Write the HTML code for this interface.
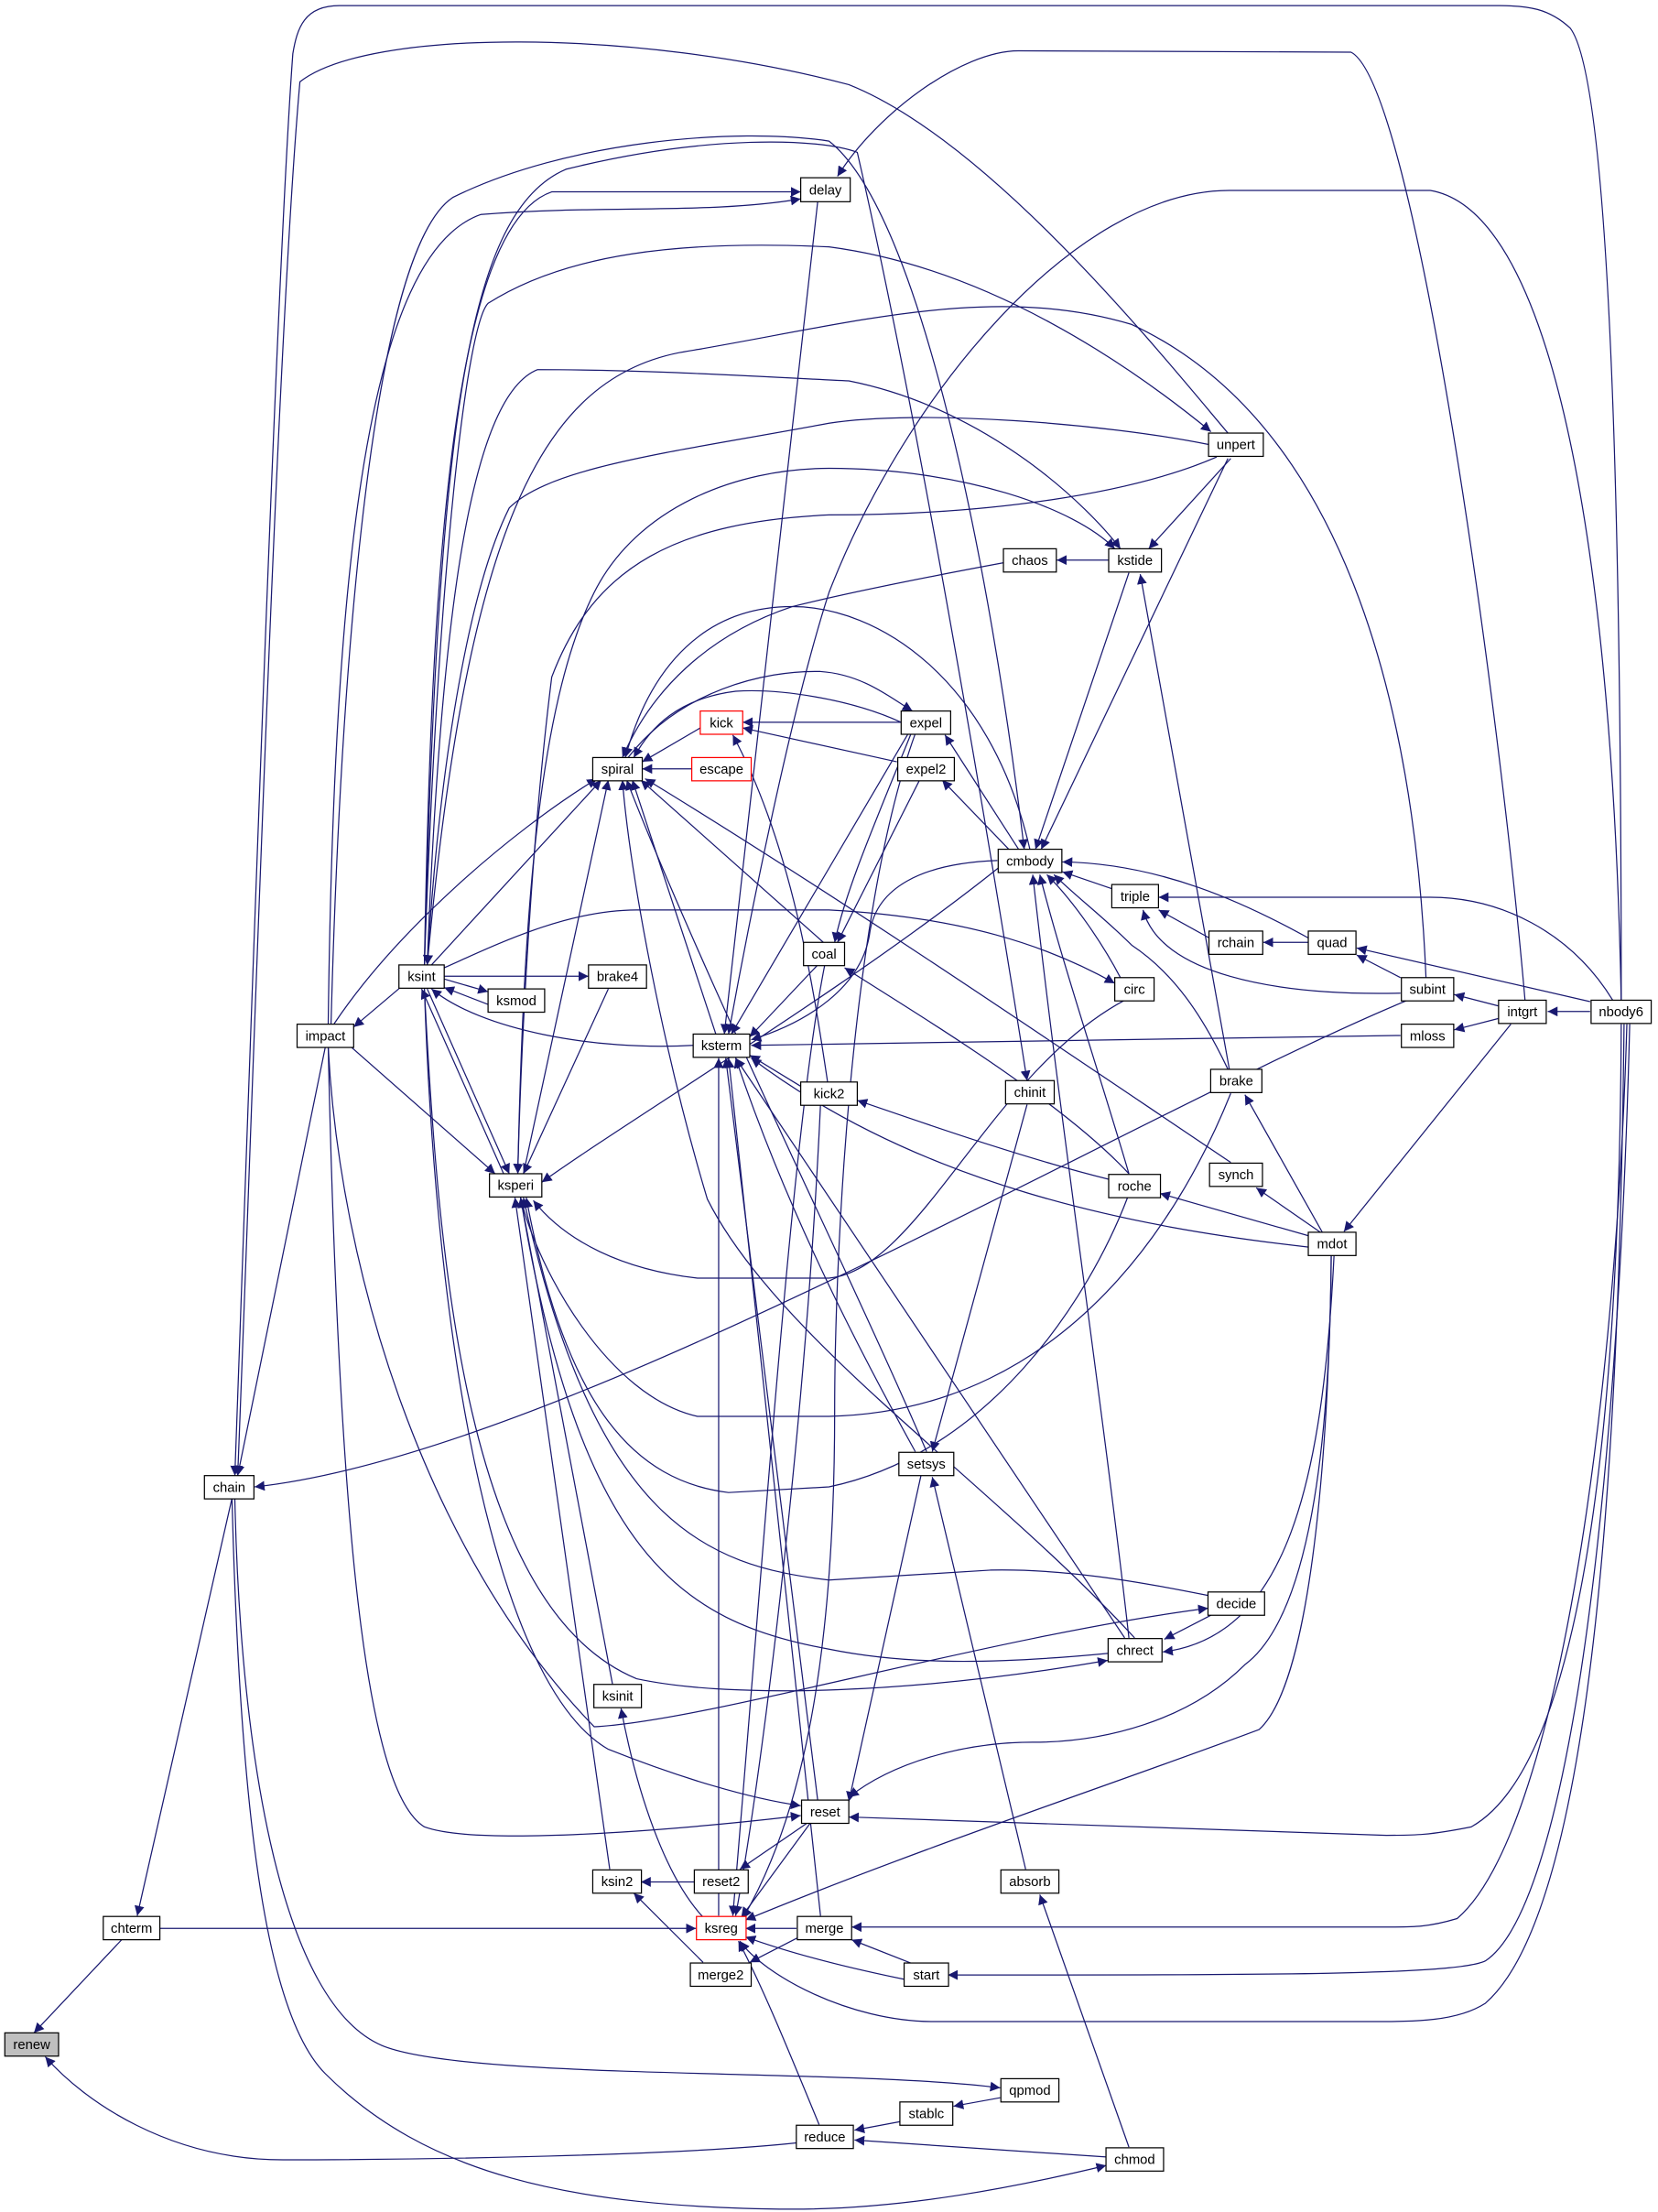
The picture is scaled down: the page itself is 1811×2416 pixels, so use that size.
<!DOCTYPE html>
<html><head><meta charset="utf-8"><style>
html,body{margin:0;padding:0;background:#fff;}
svg{display:block;}
text{font-family:"Liberation Sans",sans-serif;font-size:9.6px;text-anchor:middle;fill:#000;}
</style></head><body>
<svg width="1811" height="2416" viewBox="0 0 1172 1568" preserveAspectRatio="none" xmlns="http://www.w3.org/2000/svg">
<defs><marker id="a" viewBox="0 0 10 10" refX="10" refY="5" markerWidth="7" markerHeight="7" orient="auto" markerUnits="userSpaceOnUse"><path d="M0,0 L10,5 L0,10z" fill="#191970"/></marker></defs>
<g fill="none" stroke="#191970" stroke-width="0.8" marker-end="url(#a)">
<path d="M86,1375 L24,1441"/>
<path d="M563,1519 C480,1528 300,1531 200,1531 C120,1531 60,1490 32,1458"/>
<path d="M164,1062 L97,1358"/>
<path d="M113,1367 L492,1367"/>
<path d="M1146,709 C1146,400 1140,60 1110,20 C1095,6 1080,4 1060,4 L240,4 C215,4 210,20 207,38 C195,200 175,800 166,1046"/>
<path d="M868,307 C820,250 700,100 600,60 C450,20 260,20 212,58 C195,250 178,800 168,1046"/>
<path d="M995,709 C800,790 400,1030 180,1054"/>
<path d="M230,742 L168,1046"/>
<path d="M166,1062 C170,1250 200,1420 270,1450 C330,1475 600,1466 707,1480"/>
<path d="M164,1062 C170,1300 190,1430 230,1470 C300,1540 400,1565 560,1566 C640,1566 720,1550 782,1535"/>
<path d="M283,700 L250,728"/>
<path d="M236,726 C280,660 360,590 422,552"/>
<path d="M248,742 L350,832"/>
<path d="M232,742 C240,1100 260,1270 300,1295 C340,1310 500,1295 566,1287"/>
<path d="M1078,709 C1060,500 1000,60 955,37 L720,36 C680,36 620,80 592,125"/>
<path d="M234,726 C240,500 260,180 320,140 C400,100 520,90 586,100 C650,150 700,400 724,602"/>
<path d="M300,684 C310,300 330,150 400,120 C500,95 580,98 606,108 C650,300 700,600 726,766"/>
<path d="M300,684 C305,400 320,160 390,136 L566,136"/>
<path d="M232,726 C236,400 260,180 340,152 C430,145 500,152 566,141"/>
<path d="M300,684 C310,400 330,230 345,215 C400,180 480,170 586,175 C700,190 800,260 856,306"/>
<path d="M302,684 C312,420 335,280 380,262 C450,262 520,266 600,270 C700,290 770,360 792,389"/>
<path d="M854,315 C780,300 650,290 586,300 C480,320 390,330 360,360 C330,420 310,550 302,684"/>
<path d="M860,324 C800,350 700,365 586,365 C480,370 420,400 390,480 C375,600 368,750 366,832"/>
<path d="M366,832 C370,650 380,500 420,420 C450,360 520,332 586,332 C680,332 760,360 788,389"/>
<path d="M709,399 C650,410 600,420 560,430 C500,450 460,490 440,537"/>
<path d="M706,615 C600,700 450,790 383,838"/>
<path d="M795,709 C700,760 650,900 586,906 L493,906 C440,900 400,880 377,851"/>
<path d="M870,775 C840,850 760,1000 586,1004 L493,1004 C430,990 380,900 368,849"/>
<path d="M797,849 C770,920 700,1030 586,1054 L515,1058 C450,1050 400,1000 372,849"/>
<path d="M854,1131 C800,1120 750,1112 700,1113 L586,1120 C500,1110 420,1080 370,849"/>
<path d="M783,1172 C700,1180 640,1180 586,1169 C480,1150 410,1100 368,849"/>
<path d="M300,701 C310,900 330,1140 450,1190 C520,1205 650,1200 783,1177"/>
<path d="M232,742 C240,900 300,1100 420,1224 C500,1220 700,1160 854,1140"/>
<path d="M300,701 C310,1000 360,1200 430,1240 C480,1260 530,1275 566,1280"/>
<path d="M433,1194 L368,849"/>
<path d="M431,1325 L364,849"/>
<path d="M491,1334 L453,1334"/>
<path d="M497,1391 L448,1342"/>
<path d="M497,1359 C470,1330 450,1270 439,1211"/>
<path d="M571,1292 L523,1325"/>
<path d="M573,1292 L524,1359"/>
<path d="M563,1367 L527,1367"/>
<path d="M639,1403 C600,1395 560,1385 527,1373"/>
<path d="M565,1373 L530,1391"/>
<path d="M579,1506 C560,1460 540,1410 522,1376"/>
<path d="M1148,726 C1145,1000 1130,1350 1050,1420 C1030,1433 1000,1433 970,1433 L660,1433 C600,1433 540,1400 523,1376"/>
<path d="M941,890 C940,1000 930,1190 890,1226 C800,1260 650,1310 527,1361"/>
<path d="M1150,726 C1142,1000 1100,1300 1030,1360 C1010,1366 1000,1366 980,1366 L602,1366"/>
<path d="M1152,726 C1144,1050 1110,1350 1050,1390 C1030,1400 900,1400 670,1400"/>
<path d="M645,1392 L602,1375"/>
<path d="M1146,726 C1145,1000 1120,1250 1040,1295 C1010,1301 1000,1301 980,1301 L600,1288"/>
<path d="M941,890 C940,1050 920,1150 880,1180 C840,1220 780,1235 730,1235 C680,1235 630,1250 600,1274"/>
<path d="M943,890 C935,1050 910,1160 822,1171"/>
<path d="M856,1145 L823,1162"/>
<path d="M726,783 L659,1029"/>
<path d="M725,1325 L659,1047"/>
<path d="M798,1522 L735,1343"/>
<path d="M651,1046 L600,1277"/>
<path d="M647,1029 C620,980 560,870 520,750"/>
<path d="M636,1504 L604,1510"/>
<path d="M707,1487 L674,1493"/>
<path d="M782,1529 L604,1517"/>
<path d="M925,876 L820,846"/>
<path d="M934,874 L888,842"/>
<path d="M935,874 L880,776"/>
<path d="M1068,726 L950,873"/>
<path d="M784,836 C720,820 650,795 606,780"/>
<path d="M798,832 C750,780 650,720 597,686"/>
<path d="M925,884 C800,870 650,840 531,750"/>
<path d="M990,734 C800,736 650,740 531,741"/>
<path d="M1059,722 L1028,730"/>
<path d="M1059,713 L1028,705"/>
<path d="M1124,717 L1094,717"/>
<path d="M1124,710 L959,672"/>
<path d="M1140,709 C1110,660 1060,636 1011,636 L819,636"/>
<path d="M990,693 L959,677"/>
<path d="M990,704 C900,706 820,690 808,645"/>
<path d="M925,668 L893,668"/>
<path d="M855,665 L819,645"/>
<path d="M786,630 L751,618"/>
<path d="M925,665 C880,640 820,612 751,611"/>
<path d="M792,693 C780,670 760,640 740,620"/>
<path d="M868,758 C850,720 830,690 800,670 C780,650 760,635 745,620"/>
<path d="M798,832 C780,770 750,680 735,620"/>
<path d="M798,1161 C780,1000 750,800 730,620"/>
<path d="M798,406 L732,602"/>
<path d="M868,325 L736,602"/>
<path d="M870,325 L812,389"/>
<path d="M869,758 L806,407"/>
<path d="M784,397 L747,397"/>
<path d="M720,602 L668,521"/>
<path d="M715,604 L666,553"/>
<path d="M1008,693 C1000,500 950,300 800,230 C700,200 600,230 480,250 C380,270 330,380 302,684"/>
<path d="M1146,709 C1140,400 1100,150 1011,135 L869,135 C760,135 640,280 586,420 C560,500 530,650 515,733"/>
<path d="M578,143 L512,733"/>
<path d="M444,537 C480,490 540,475 580,476 C610,478 630,495 645,504"/>
<path d="M637,512 C600,495 550,488 520,490 C480,495 460,515 448,537"/>
<path d="M637,512 L525,512"/>
<path d="M634,540 L525,516"/>
<path d="M495,516 L454,540"/>
<path d="M489,545 L454,545"/>
<path d="M644,520 C620,580 598,630 590,668"/>
<path d="M650,553 L592,668"/>
<path d="M642,520 L517,733"/>
<path d="M647,520 C600,650 590,900 590,1000 C590,1200 560,1300 525,1360"/>
<path d="M583,684 C560,800 540,1100 518,1358"/>
<path d="M582,668 L453,553"/>
<path d="M578,684 L530,735"/>
<path d="M870,824 C760,750 600,640 456,552"/>
<path d="M802,1161 C700,1050 550,950 500,850 C470,750 445,620 440,553"/>
<path d="M506,733 L447,553"/>
<path d="M370,832 L430,553"/>
<path d="M655,1029 C600,900 500,700 443,553"/>
<path d="M305,684 L425,553"/>
<path d="M728,602 C700,480 620,430 560,430 C500,430 460,470 442,537"/>
<path d="M705,610 C650,612 620,630 615,660 C610,700 570,725 531,737"/>
<path d="M566,770 L530,748"/>
<path d="M585,767 C575,700 560,600 518,521"/>
<path d="M578,1276 L513,750"/>
<path d="M580,1358 L515,750"/>
<path d="M508,1358 L508,750"/>
<path d="M795,1161 L520,750"/>
<path d="M490,741 C420,745 340,730 305,701"/>
<path d="M345,712 L314,700"/>
<path d="M314,694 L345,703"/>
<path d="M314,692 L416,692"/>
<path d="M430,701 L370,832"/>
<path d="M302,701 L360,832"/>
<path d="M356,832 L298,701"/>
<path d="M314,686 C350,670 400,645 450,645 L586,645 C680,650 740,670 788,697"/>
<path d="M580,783 C570,1000 540,1250 520,1358"/>
</g>
<g stroke="#000" stroke-width="0.8" fill="#fff">
<rect x="3.4" y="1441" width="38" height="16.5" fill="#bfbfbf"/>
<rect x="73" y="1358.5" width="40" height="16.5"/>
<rect x="144.5" y="1046" width="35" height="16.5"/>
<rect x="210" y="726" width="40" height="16.5"/>
<rect x="282" y="684" width="32" height="16.5"/>
<rect x="345" y="701" width="40" height="16.5"/>
<rect x="416" y="684" width="41" height="16.5"/>
<rect x="346" y="832" width="37" height="16.5"/>
<rect x="419" y="537" width="35" height="16.5"/>
<rect x="495" y="504" width="30" height="16.5" stroke="#f00"/>
<rect x="489" y="537" width="42" height="16.5" stroke="#f00"/>
<rect x="490" y="733" width="40" height="16.5"/>
<rect x="568" y="668" width="29" height="16.5"/>
<rect x="566" y="767" width="40" height="16.5"/>
<rect x="566" y="126" width="35" height="17"/>
<rect x="637" y="504" width="35" height="16.5"/>
<rect x="634.6" y="537" width="40" height="16.5"/>
<rect x="705.6" y="602" width="45" height="16.5"/>
<rect x="709.3" y="389" width="37.4" height="16.5"/>
<rect x="783.7" y="389" width="37.3" height="16.5"/>
<rect x="854.3" y="307" width="38.7" height="16.5"/>
<rect x="785.9" y="627" width="33" height="16.5"/>
<rect x="854.6" y="660" width="38" height="16.5"/>
<rect x="924.8" y="660" width="33.7" height="16.5"/>
<rect x="788" y="693" width="27.8" height="16.5"/>
<rect x="990.6" y="693" width="37" height="16.5"/>
<rect x="1059.3" y="709" width="33.7" height="16.5"/>
<rect x="1124.7" y="709" width="42.5" height="16.5"/>
<rect x="990.6" y="726" width="37" height="16.5"/>
<rect x="855.8" y="758" width="36.2" height="16.5"/>
<rect x="710.8" y="766" width="34.4" height="16.5"/>
<rect x="783.7" y="832.5" width="36.6" height="16.5"/>
<rect x="855" y="824.5" width="37.4" height="16.5"/>
<rect x="924.8" y="873.5" width="33.7" height="16.5"/>
<rect x="635.4" y="1029.5" width="38.8" height="16.5"/>
<rect x="853.9" y="1128.5" width="40" height="16.5"/>
<rect x="783.3" y="1161.5" width="38.1" height="16.5"/>
<rect x="419.8" y="1194" width="33.6" height="16.5"/>
<rect x="566.6" y="1276" width="33.4" height="16.5"/>
<rect x="419" y="1325.5" width="34.4" height="16.5"/>
<rect x="490.8" y="1325.5" width="38.1" height="16.5"/>
<rect x="492.3" y="1358.5" width="35.1" height="16.5" stroke="#f00"/>
<rect x="563.6" y="1358.5" width="38.4" height="16.5"/>
<rect x="488" y="1391.5" width="43" height="16.5"/>
<rect x="639.1" y="1391.5" width="31.4" height="16.5"/>
<rect x="707.5" y="1325.5" width="41" height="16.5"/>
<rect x="707.5" y="1473.5" width="41" height="16.5"/>
<rect x="636.1" y="1490" width="37.4" height="16.5"/>
<rect x="562.9" y="1506.5" width="40.3" height="16.5"/>
<rect x="781.8" y="1522.5" width="40.7" height="16.5"/>
</g>
<g>
<text x="22.4" y="1452.5">renew</text>
<text x="93" y="1370">chterm</text>
<text x="162" y="1057.5">chain</text>
<text x="230" y="737.5">impact</text>
<text x="298" y="695.5">ksint</text>
<text x="365" y="712.5">ksmod</text>
<text x="436.5" y="695.5">brake4</text>
<text x="364.5" y="843.5">ksperi</text>
<text x="436.5" y="548.5">spiral</text>
<text x="510" y="515.5">kick</text>
<text x="510" y="548.5">escape</text>
<text x="510" y="744.5">ksterm</text>
<text x="582.5" y="679.5">coal</text>
<text x="586" y="778.5">kick2</text>
<text x="583.5" y="137.8">delay</text>
<text x="654.5" y="515.5">expel</text>
<text x="654.6" y="548.5">expel2</text>
<text x="728.1" y="613.5">cmbody</text>
<text x="728" y="400.5">chaos</text>
<text x="802.3" y="400.5">kstide</text>
<text x="873.6" y="318.5">unpert</text>
<text x="802.4" y="638.5">triple</text>
<text x="873.6" y="671.5">rchain</text>
<text x="941.6" y="671.5">quad</text>
<text x="801.9" y="704.5">circ</text>
<text x="1009.1" y="704.5">subint</text>
<text x="1076.1" y="720.5">intgrt</text>
<text x="1145.9" y="720.5">nbody6</text>
<text x="1009.1" y="737.5">mloss</text>
<text x="873.9" y="769.5">brake</text>
<text x="728" y="777.5">chinit</text>
<text x="802" y="844">roche</text>
<text x="873.7" y="836">synch</text>
<text x="941.6" y="885">mdot</text>
<text x="654.8" y="1041">setsys</text>
<text x="873.9" y="1140">decide</text>
<text x="802.3" y="1173">chrect</text>
<text x="436.6" y="1205.5">ksinit</text>
<text x="583.3" y="1287.5">reset</text>
<text x="436.2" y="1337">ksin2</text>
<text x="509.8" y="1337">reset2</text>
<text x="509.8" y="1370">ksreg</text>
<text x="582.8" y="1370">merge</text>
<text x="509.5" y="1403">merge2</text>
<text x="654.8" y="1403">start</text>
<text x="728" y="1337">absorb</text>
<text x="728" y="1485">qpmod</text>
<text x="654.8" y="1501.5">stablc</text>
<text x="583" y="1518">reduce</text>
<text x="802.1" y="1534">chmod</text>
</g>
</svg>
</body></html>
